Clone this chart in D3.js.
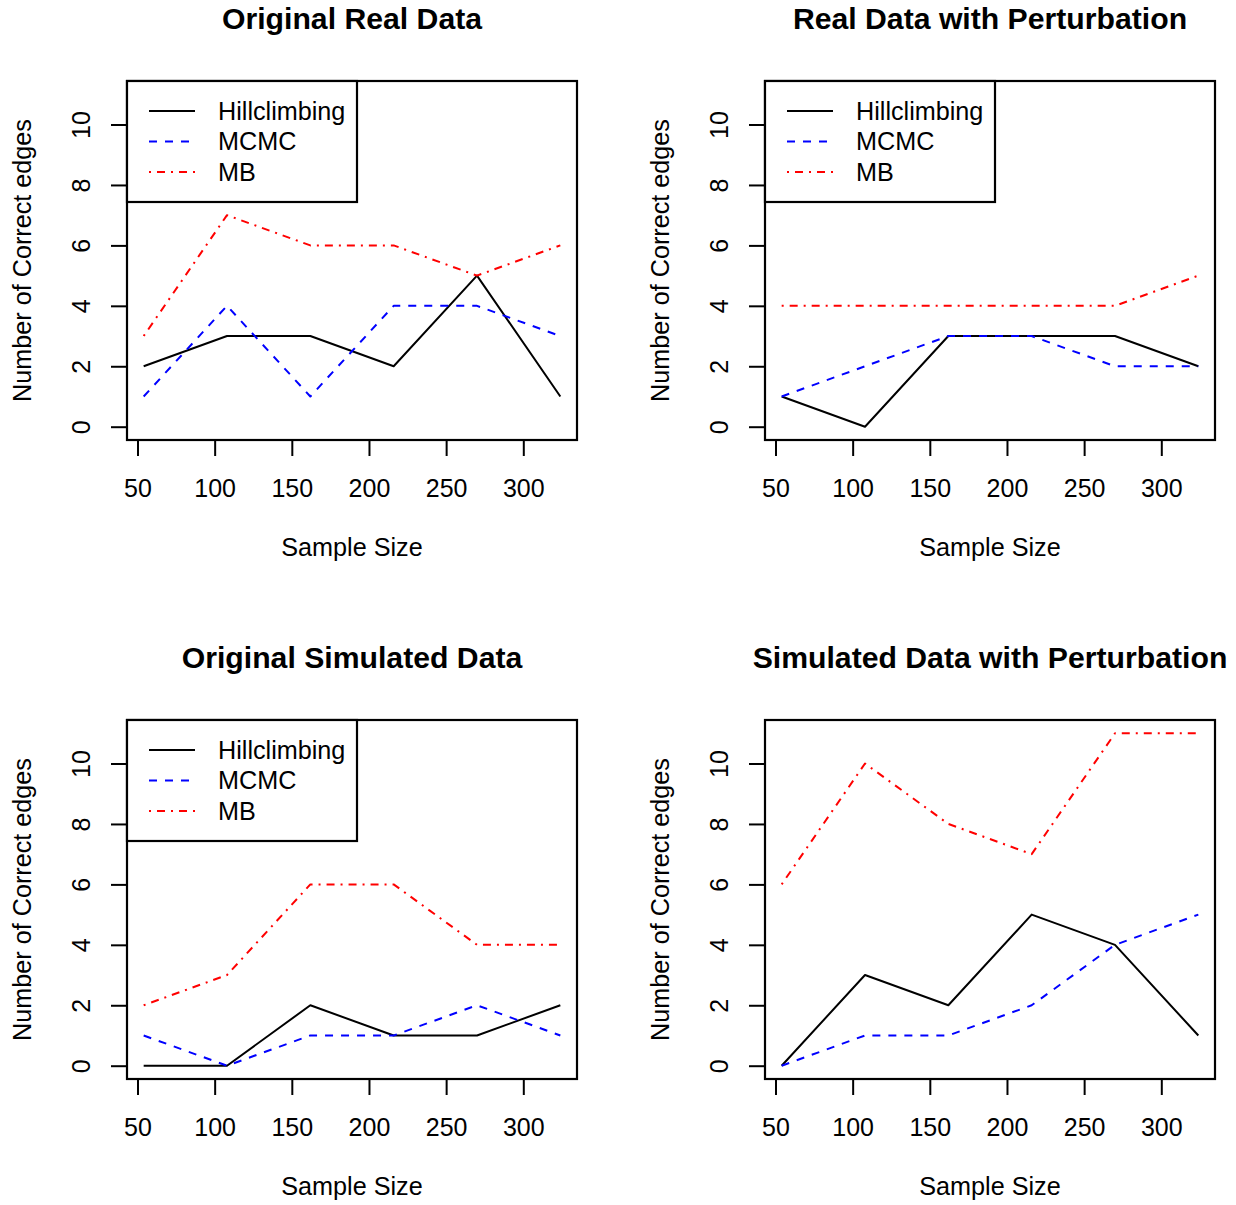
<!DOCTYPE html>
<html>
<head>
<meta charset="utf-8">
<script src="https://cdn.jsdelivr.net/npm/d3@7"></script>
<style>
  body { margin: 0; background: #fff; }
  svg { display: block; font-family: "Liberation Sans", Arial, Helvetica, sans-serif; }
  .title { font-size: 30.2px; font-weight: bold; }
  .lab { font-size: 25.2px; }
  .tick text { font-size: 25px; font-family: "Liberation Sans", Arial, Helvetica, sans-serif; }
</style>
</head>
<body>
<svg id="chart"></svg>
<script>
// data
var sampleSizes = [54, 108, 162, 216, 270, 324];
var methods = ["Hillclimbing", "MCMC", "MB"];
var panelTitles = ["Original Real Data", "Real Data with Perturbation",
                   "Original Simulated Data", "Simulated Data with Perturbation"];
var hillclimbing = [[2, 3, 3, 2, 5, 1], [1, 0, 3, 3, 3, 2], [0, 0, 2, 1, 1, 2], [0, 3, 2, 5, 4, 1]];
var mcmc =         [[1, 4, 1, 4, 4, 3], [1, 2, 3, 3, 2, 2], [1, 0, 1, 1, 2, 1], [0, 1, 1, 2, 4, 5]];
var mb =           [[3, 7, 6, 6, 5, 6], [4, 4, 4, 4, 4, 5], [2, 3, 6, 6, 4, 4], [6, 10, 8, 7, 11, 11]];
var xTicks = [50, 100, 150, 200, 250, 300];
var yTicks = [0, 2, 4, 6, 8, 10];
var showLegend = [true, true, true, false];
var xLabel = "Sample Size", yLabel = "Number of Correct edges";

// layout conf.
var svgWidth = 1236, svgHeight = 1205;
var panelDx = 638, panelDy = 639;
var plot = { left: 127, right: 577, top: 81, bottom: 440 };
var colors = ["#000000", "#0000ff", "#ff0000"];
var dashes = [null, "8,8", "2,6,8,6"];
var seriesByMethod = [hillclimbing, mcmc, mb];

var svg = d3.select("#chart").attr("width", svgWidth).attr("height", svgHeight);

// R style 4% padding on each side
var xMin = d3.min(sampleSizes), xMax = d3.max(sampleSizes), xPad = (xMax - xMin) * 0.04;
var yMin = 0, yMax = 11, yPad = (yMax - yMin) * 0.04;
var x = d3.scaleLinear().domain([xMin - xPad, xMax + xPad]).range([plot.left, plot.right]);
var y = d3.scaleLinear().domain([yMin - yPad, yMax + yPad]).range([plot.bottom, plot.top]);

var line = d3.line()
    .x(function (d) { return x(d[0]); })
    .y(function (d) { return y(d[1]); });

panelTitles.forEach(function (title, p) {
    var g = svg.append("g")
        .attr("transform", "translate(" + [(p % 2) * panelDx, Math.floor(p / 2) * panelDy] + ")");
    var cx = (plot.left + plot.right) / 2, cy = (plot.top + plot.bottom) / 2;

    g.append("text").classed("title", true)
        .attr("x", cx).attr("y", 29)
        .attr("text-anchor", "middle")
        .text(title);

    // series
    seriesByMethod.forEach(function (series, m) {
        var pts = sampleSizes.map(function (s, i) { return [s, series[p][i]]; });
        g.append("path")
            .attr("d", line(pts))
            .attr("fill", "none")
            .attr("stroke", colors[m])
            .attr("stroke-width", 2)
            .attr("stroke-linejoin", "round")
            .attr("stroke-dasharray", dashes[m]);
    });

    // axes
    var xAxis = g.append("g")
        .attr("transform", "translate(0," + plot.bottom + ")")
        .call(d3.axisBottom(x).tickValues(xTicks).tickSize(16).tickFormat(d3.format("d")));
    xAxis.select(".domain").remove();
    xAxis.selectAll(".tick line").attr("stroke", "#000").attr("stroke-width", 2);
    xAxis.selectAll(".tick text").attr("y", 57).attr("dy", 0).attr("fill", "#000");

    var yAxis = g.append("g")
        .attr("transform", "translate(" + plot.left + ",0)")
        .call(d3.axisLeft(y).tickValues(yTicks).tickSize(16).tickFormat(d3.format("d")));
    yAxis.select(".domain").remove();
    yAxis.selectAll(".tick line").attr("stroke", "#000").attr("stroke-width", 2);
    yAxis.selectAll(".tick text")
        .attr("x", 0).attr("dy", 0).attr("fill", "#000")
        .attr("text-anchor", "middle")
        .attr("transform", "translate(-37,0) rotate(-90)");

    // box
    g.append("rect")
        .attr("x", plot.left).attr("y", plot.top)
        .attr("width", plot.right - plot.left).attr("height", plot.bottom - plot.top)
        .attr("fill", "none").attr("stroke", "#000").attr("stroke-width", 2.2);

    g.append("text").classed("lab", true)
        .attr("x", cx).attr("y", 556)
        .attr("text-anchor", "middle")
        .text(xLabel);
    g.append("text").classed("lab", true)
        .attr("transform", "translate(" + [30.5, cy] + ") rotate(-90)")
        .attr("text-anchor", "middle")
        .text(yLabel);

    if (showLegend[p]) {
        var lg = g.append("g").classed("legend", true);
        lg.append("rect")
            .attr("x", plot.left).attr("y", plot.top)
            .attr("width", 230).attr("height", 121)
            .attr("fill", "#fff").attr("stroke", "#000").attr("stroke-width", 2.2);
        var rows = lg.selectAll(".row").data(methods).enter().append("g")
            .attr("transform", function (d, i) { return "translate(0," + (111 + i * 30.5) + ")"; });
        rows.append("line")
            .attr("x1", 149).attr("x2", 195)
            .attr("stroke", function (d, i) { return colors[i]; })
            .attr("stroke-width", 2)
            .attr("stroke-dasharray", function (d, i) { return dashes[i]; });
        rows.append("text").classed("lab", true)
            .attr("x", 218).attr("dy", "0.35em")
            .text(function (d) { return d; });
    }
});
</script>
</body>
</html>
